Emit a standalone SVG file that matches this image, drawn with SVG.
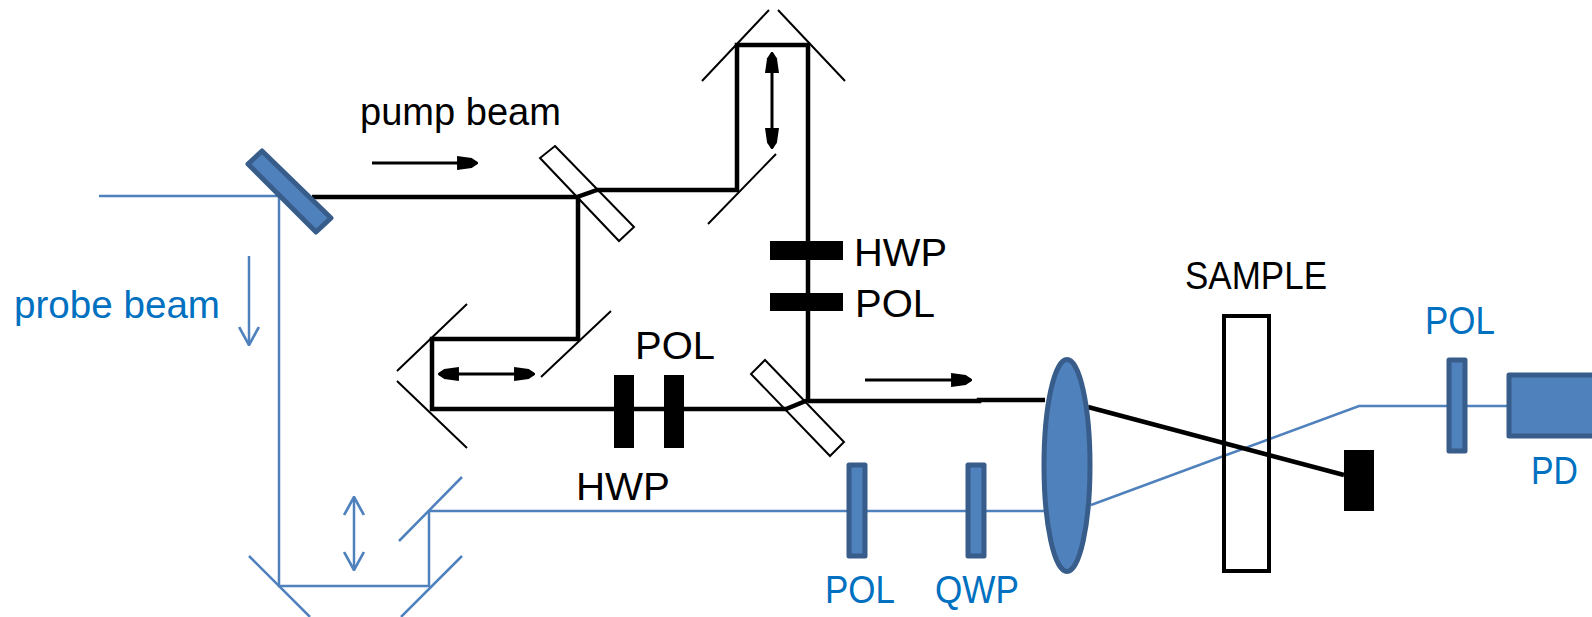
<svg xmlns="http://www.w3.org/2000/svg" width="1592" height="617" viewBox="0 0 1592 617">
<style>
text{font-family:"Liberation Sans",Arial,sans-serif;font-size:39px;fill:#000}
text.b{fill:#0070C0}
.k{fill:none;stroke:#000;stroke-width:4.500}
.m{fill:none;stroke:#000;stroke-width:2}
.a{fill:none;stroke:#000;stroke-width:3}
.p{fill:none;stroke:#4F81BD;stroke-width:2.500}
.o{fill:#4F81BD;stroke:#385D8A;stroke-width:5;stroke-linejoin:round}
</style>
<defs>
<marker id="kh" viewBox="0 0 10 10" refX="9.500" refY="5" markerWidth="21" markerHeight="14" markerUnits="userSpaceOnUse" orient="auto-start-reverse" preserveAspectRatio="none"><path d="M0 0L7 1.500L10 4.500V5.500L7 8.500L0 10Z" fill="#000"/></marker>
<marker id="bh" viewBox="0 0 20 20" refX="19" refY="10" markerWidth="20" markerHeight="22" markerUnits="userSpaceOnUse" orient="auto-start-reverse" preserveAspectRatio="none"><path d="M1 1L19 10L1 19" fill="none" stroke="#4F81BD" stroke-width="2.500"/></marker>
</defs>
<g id="connectors">
<path class="p" d="M99 196H279V586H429V511H1045M1091 505L1359 406H1507"/>
<path class="k" d="M312 197H577L597 190H737V45H808V400L786 409H432V339H578V197"/>
<path class="k" d="M808 401H979V400H1045M1088 407L1344 475"/>
<path class="a" marker-end="url(#kh)" d="M372 163H477"/>
<path class="a" marker-end="url(#kh)" d="M865 380H971"/>
<path class="a" marker-start="url(#kh)" marker-end="url(#kh)" d="M439 374H534"/>
<path class="a" marker-start="url(#kh)" marker-end="url(#kh)" d="M772 53V148"/>
<path class="p" marker-end="url(#bh)" d="M249 256V345"/>
<path class="p" marker-start="url(#bh)" marker-end="url(#bh)" d="M354 497V570"/>
</g>
<g id="probe-mirror"><path class="o" d="M262 151L331 218L316 232L248 164Z"/></g>
<g id="splitter-1"><path class="m" d="M555 146L634 227L619 241L540 158Z"/></g>
<g id="top-retro"><path class="m" d="M769 10L702 81M778 10L845 81M776 154L708 224"/></g>
<g id="left-retro"><path class="m" d="M467 304L397 371M397 381L467 448M611 311L541 377"/></g>
<g id="probe-retro"><path class="p" d="M462 477L399 541M249 556L310 617M462 556L401 617"/></g>
<g id="hwp-1"><rect x="770" y="241" width="73" height="19"/></g>
<g id="pol-1"><rect x="770" y="293" width="73" height="18"/></g>
<g id="hwp-2"><rect x="614" y="375" width="20" height="73"/></g>
<g id="pol-2"><rect x="664" y="375" width="20" height="73"/></g>
<g id="splitter-2"><path class="m" d="M765 360L844 442L830 456L751 374Z"/></g>
<g id="pol-3"><rect class="o" x="849" y="465" width="16" height="91"/></g>
<g id="qwp"><rect class="o" x="968" y="465" width="16" height="91"/></g>
<g id="lens"><ellipse class="o" cx="1067" cy="465.500" rx="23" ry="106"/></g>
<g id="sample"><rect x="1224" y="316" width="45" height="255" fill="none" stroke="#000" stroke-width="4"/></g>
<g id="dump"><rect x="1344" y="450" width="30" height="61"/></g>
<g id="pol-4"><rect class="o" x="1449" y="360" width="16" height="91"/></g>
<g id="pd"><rect class="o" x="1509" y="375" width="90" height="61"/></g>
<g id="labels">
<text x="360" y="125" textLength="201" lengthAdjust="spacingAndGlyphs">pump beam</text>
<text class="b" x="14" y="318" textLength="206" lengthAdjust="spacingAndGlyphs">probe beam</text>
<text x="854" y="266" textLength="93" lengthAdjust="spacingAndGlyphs">HWP</text>
<text x="855" y="317" textLength="80" lengthAdjust="spacingAndGlyphs">POL</text>
<text x="635" y="359" textLength="80" lengthAdjust="spacingAndGlyphs">POL</text>
<text x="576" y="500" textLength="94" lengthAdjust="spacingAndGlyphs">HWP</text>
<text x="1185" y="289" textLength="142" lengthAdjust="spacingAndGlyphs">SAMPLE</text>
<text class="b" x="825" y="603" textLength="70" lengthAdjust="spacingAndGlyphs">POL</text>
<text class="b" x="935" y="603" textLength="84" lengthAdjust="spacingAndGlyphs">QWP</text>
<text class="b" x="1425" y="334" textLength="70" lengthAdjust="spacingAndGlyphs">POL</text>
<text class="b" x="1531" y="484" textLength="47" lengthAdjust="spacingAndGlyphs">PD</text>
</g>
</svg>
